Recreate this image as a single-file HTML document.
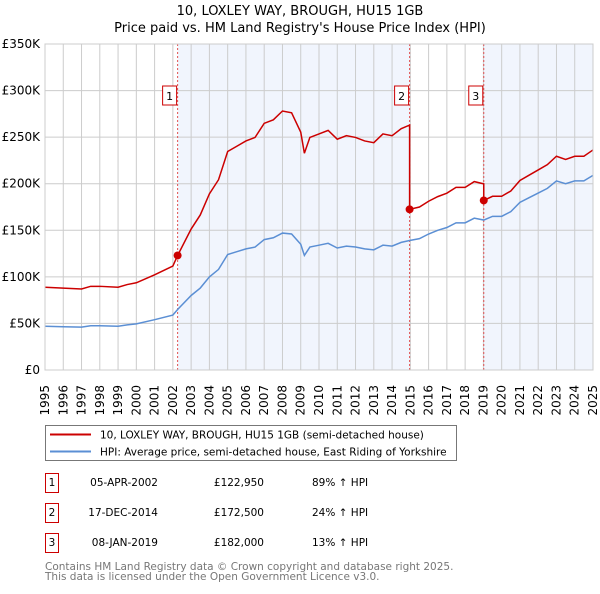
<!DOCTYPE html>
<html><head><meta charset="utf-8"><style>
body{margin:0;background:#fff;font-family:"DejaVu Sans","Liberation Sans",sans-serif;}
svg text{font-family:"DejaVu Sans","Liberation Sans",sans-serif;}
</style></head><body>
<svg id="chart" width="600" height="590" xmlns="http://www.w3.org/2000/svg">
<text x="300" y="15" text-anchor="middle" font-size="13">10, LOXLEY WAY, BROUGH, HU15 1GB</text>
<text x="300" y="32" text-anchor="middle" font-size="13">Price paid vs. HM Land Registry's House Price Index (HPI)</text>
<g id="plot"></g>
<g id="legend">
<rect x="45.5" y="425.5" width="411" height="35" fill="#fff" stroke="#777"/>
<line x1="50" y1="434.5" x2="91" y2="434.5" stroke="#cc0000" stroke-width="2"/>
<text x="100" y="438.5" font-size="10.5">10, LOXLEY WAY, BROUGH, HU15 1GB (semi-detached house)</text>
<line x1="50" y1="451.5" x2="91" y2="451.5" stroke="#5b8fd4" stroke-width="2"/>
<text x="100" y="455.5" font-size="10.5">HPI: Average price, semi-detached house, East Riding of Yorkshire</text>
</g>
<g id="table" font-size="10.5"></g>
<text x="45" y="570" font-size="10.5" fill="#777">Contains HM Land Registry data © Crown copyright and database right 2025.</text>
<text x="45" y="580" font-size="10.5" fill="#777">This data is licensed under the Open Government Licence v3.0.</text>
</svg>
<script>
const hpiYears=[1995,1996,1997,1997.5,1998,1999,1999.5,2000,2001,2002,2002.26,2003,2003.5,2004,2004.5,2005,2005.5,2006,2006.5,2007,2007.5,2008,2008.5,2009,2009.2,2009.5,2010,2010.5,2011,2011.5,2012,2012.5,2013,2013.5,2014,2014.5,2014.96,2015.5,2016,2016.5,2017,2017.5,2018,2018.5,2019.02,2019.5,2020,2020.5,2021,2021.5,2022,2022.5,2023,2023.5,2024,2024.5,2025];
const hpiValues=[47,46.5,46,47.5,47.5,47,48.5,49.5,54,59,65,80,88,100,108,124,127,130,132,140,142,147,146,135,123,132,134,136,131,133,132,130,129,134,133,137,139,141,146,150,153,158,158,163,161,165,165,170,180,185,190,195,203,200,203,203,209];
const saleYears=[2002.26,2014.96,2019.02];
const salePrices=[122.95,172.5,182.0];
const saleLabels=["1","2","3"];
const saleDates=["05-APR-2002","17-DEC-2014","08-JAN-2019"];
const salePriceText=["£122,950","£172,500","£182,000"];
const saleHpiText=["89% ↑ HPI","24% ↑ HPI","13% ↑ HPI"];
const yTicks=[0,50,100,150,200,250,300,350];
const yTickLabels=["£0","£50K","£100K","£150K","£200K","£250K","£300K","£350K"];
const xTicks=[1995,1996,1997,1998,1999,2000,2001,2002,2003,2004,2005,2006,2007,2008,2009,2010,2011,2012,2013,2014,2015,2016,2017,2018,2019,2020,2021,2022,2023,2024,2025];

const X0=45,X1=593,Y0=370,Y1=44;
const xs=y=>X0+(y-1995)/30*(X1-X0);
const ys=v=>Y0-v/350*(Y0-Y1);
const NS="http://www.w3.org/2000/svg";
const plot=document.getElementById('plot');
function mk(tag,attrs,parent){const e=document.createElementNS(NS,tag);for(const k in attrs)e.setAttribute(k,attrs[k]);(parent||plot).appendChild(e);return e;}
function hpiAt(t){for(let i=0;i<hpiYears.length-1;i++){if(t<=hpiYears[i+1]){const f=(t-hpiYears[i])/(hpiYears[i+1]-hpiYears[i]);return hpiValues[i]+f*(hpiValues[i+1]-hpiValues[i]);}}return hpiValues[hpiValues.length-1];}

const sh=[[saleYears[0],saleYears[1]],[saleYears[2],2025]];
sh.forEach((s,i)=>{const r=mk('rect',{x:xs(s[0]),y:Y1,width:xs(s[1])-xs(s[0]),height:Y0-Y1,fill:'#eef3fc',opacity:0.8});

});
for(let y=1995;y<=2025;y++){const l=mk('line',{x1:xs(y),x2:xs(y),y1:Y1,y2:Y0,stroke:'#cccccc','stroke-width':1});

}
yTicks.forEach((v,i)=>{const l=mk('line',{x1:X0,x2:X1,y1:ys(v),y2:ys(v),stroke:'#cccccc','stroke-width':1});


const t=mk('text',{x:X0-5,y:ys(v)+4,'text-anchor':'end','font-size':12});t.textContent=yTickLabels[i];

});
xTicks.forEach(y=>{const t=mk('text',{transform:`translate(${xs(y)+4},385) rotate(-90)`,'text-anchor':'end','font-size':12});t.textContent=y;

});
saleYears.forEach((s,i)=>{const l=mk('line',{x1:xs(s),x2:xs(s),y1:Y1,y2:Y0,stroke:'#e05050','stroke-width':1,'stroke-dasharray':'2,2'});


const r=mk('rect',{x:xs(s)-15,y:86,width:14,height:19,fill:'#fff',stroke:'#cc0000'});


const t=mk('text',{x:xs(s)-8,y:100,'text-anchor':'middle','font-size':11});t.textContent=saleLabels[i];

});
const hp=mk('polyline',{points:hpiYears.map((y,i)=>xs(y)+','+ys(hpiValues[i])).join(' '),fill:'none',stroke:'#5b8fd4','stroke-width':1.5});


let pts=[];
hpiYears.forEach((y,i)=>{let k=0;for(let j=0;j<saleYears.length;j++)if(y>=saleYears[j])k=j;
 const prevK=pts.length?pts[pts.length-1].k:k;
 if(k!==prevK){const sy=saleYears[k];pts.push({x:sy,v:salePrices[prevK]*hpiAt(sy)/hpiAt(saleYears[prevK]),k:prevK});pts.push({x:sy,v:salePrices[k],k:k});}
 pts.push({x:y,v:salePrices[k]*hpiValues[i]/hpiAt(saleYears[k]),k:k});});
const pp=mk('polyline',{points:pts.map(p=>xs(p.x)+','+ys(p.v)).join(' '),fill:'none',stroke:'#cc0000','stroke-width':1.5});


saleYears.forEach((s,i)=>{const c=mk('circle',{cx:xs(s),cy:ys(salePrices[i]),r:4,fill:'#cc0000'});

});
const fr=mk('rect',{x:X0,y:Y1,width:X1-X0,height:Y0-Y1,fill:'none',stroke:'#cccccc'});


const tb=document.getElementById('table');
saleLabels.forEach((l,i)=>{const y=486+i*30;
 const r=mk('rect',{x:45.5,y:y-12.5,width:13,height:19,fill:'#fff',stroke:'#cc0000'},tb);
 
 
 const t=mk('text',{x:52,y:y,'text-anchor':'middle'},tb);t.textContent=l;
 
 
 const d=mk('text',{x:158,y:y,'text-anchor':'end'},tb);d.textContent=saleDates[i];
 
 
 const p=mk('text',{x:264,y:y,'text-anchor':'end'},tb);p.textContent=salePriceText[i];
 
 
 const h=mk('text',{x:312,y:y},tb);h.textContent=saleHpiText[i];
 
 });
</script>
</body></html>
